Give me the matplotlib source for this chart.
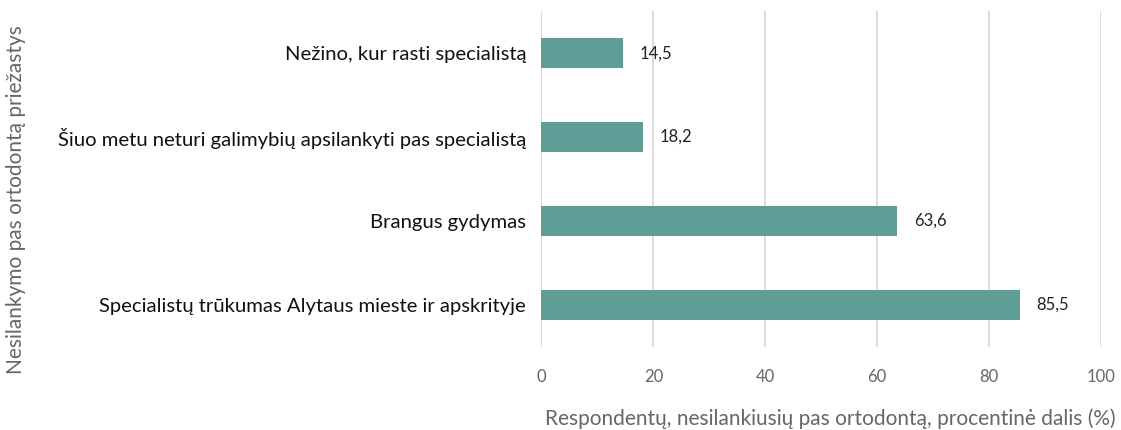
import matplotlib
matplotlib.use("Agg")
import matplotlib.pyplot as plt

categories = [
    "Specialistų trūkumas Alytaus mieste ir apskrityje",
    "Brangus gydymas",
    "Šiuo metu neturi galimybių apsilankyti pas specialistą",
    "Nežino, kur rasti specialistą",
]
values = [85.5, 63.6, 18.2, 14.5]
value_labels = ["85,5", "63,6", "18,2", "14,5"]
xticks = [0, 20, 40, 60, 80, 100]

plt.rcParams['font.family'] = ['Lato', 'DejaVu Sans']

fig = plt.figure(figsize=(11.21, 4.30), dpi=100)
ax = fig.add_axes([0.483, 0.193, 0.499, 0.781])

bar_color = "#5f9e96"
ypos = list(range(len(categories)))
ax.barh(ypos, values, height=0.36, color=bar_color, zorder=3)
for y, v, lab in zip(ypos, values, value_labels):
    ax.text(v + 3.0, y, lab, va='center', ha='left', fontsize=12, color='#222222')

ax.set_xlim(0, 100)
ax.set_ylim(-0.5, 3.5)
ax.set_yticks(ypos)
ax.set_yticklabels(categories, fontsize=14.6, color='#111111')
ax.set_xticks(xticks)
ax.set_xticklabels([str(t) for t in xticks], fontsize=12, color='#666666')
ax.tick_params(axis='both', length=0)
ax.tick_params(axis='x', pad=16)
ax.tick_params(axis='y', pad=11)
ax.grid(axis='x', color='#dcdcdc', linewidth=1.4, zorder=0)
for s in ax.spines.values():
    s.set_visible(False)

fig.text(0.741, 0.027, "Respondentų, nesilankiusių pas ortodontą, procentinė dalis (%)",
         ha='center', va='center', fontsize=15, color='#666666')
fig.text(0.014, 0.535, "Nesilankymo pas ortodontą priežastys", rotation=90,
         ha='center', va='center', fontsize=15, color='#666666')

fig.savefig("out.png", dpi=100)
